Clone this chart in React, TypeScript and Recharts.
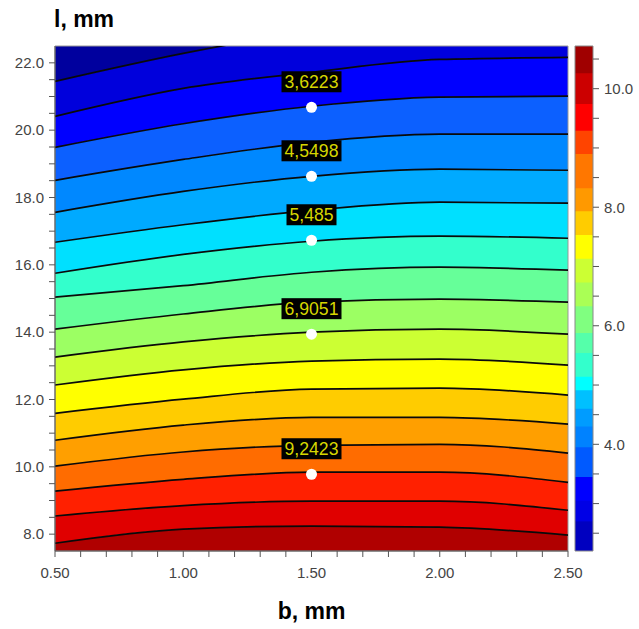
import {
  Area,
  ComposedChart,
  Line,
  ReferenceArea,
  Scatter,
  XAxis,
  YAxis,
} from "recharts";

// b positions where the contour lines were read
const bValues = [0.5, 1.0, 1.5, 2.0, 2.5];

// contour levels (value of the field)
const levels = [2.5, 3.0, 3.5, 4.0, 4.5, 5.0, 5.5, 6.0, 6.5, 7.0, 7.5, 8.0, 8.5, 9.0, 9.5, 10.0, 10.5];

// l (mm) where each level crosses the given b
const lAtB050 = [21.45, 20.41, 19.49, 18.51, 17.56, 16.67, 15.75, 15.04, 14.09, 13.26, 12.43, 11.59, 10.79, 10.02, 9.28, 8.54, 7.73];
const lAtB100 = [22.28, 21.24, 20.19, 19.13, 18.18, 17.19, 16.31, 15.38, 14.54, 13.71, 12.88, 12.01, 11.24, 10.44, 9.63, 8.85, 8.15];
const lAtB150 = [22.95, 21.72, 20.71, 19.64, 18.63, 17.62, 16.7, 15.78, 14.89, 14.0, 13.14, 12.31, 11.47, 10.64, 9.84, 8.98, 8.24];
const lAtB200 = [23.3, 22.1, 20.98, 19.88, 18.84, 17.86, 16.85, 15.93, 14.98, 14.09, 13.2, 12.34, 11.47, 10.67, 9.84, 8.98, 8.21];
const lAtB250 = [23.4, 22.16, 21.01, 19.88, 18.81, 17.83, 16.79, 15.84, 14.89, 13.94, 13.02, 12.13, 11.27, 10.41, 9.54, 8.71, 7.97];

// fill of each band, from below the first level to above the last one
const bandColors = [
  "#00009e", "#0000dc", "#0000ff", "#0c60ff", "#0088ff", "#00aaff",
  "#00e0ff", "#33ffcc", "#66ff99", "#9cff63", "#ccff33", "#ffff00",
  "#ffcc00", "#ff9f00", "#ff6c00", "#ff2000", "#e00000", "#b00000",
];

// marked points
const pointB = [1.5, 1.5, 1.5, 1.5, 1.5];
const pointL = [20.68, 18.63, 16.73, 13.94, 9.78];
const pointLabels = ["3,6223", "4,5498", "5,485", "6,9051", "9,2423"];

// colour bar steps
const cbEdges = [2.2, 2.7, 3.05, 3.45, 3.95, 4.3, 4.6, 4.91, 5.14, 5.54, 5.88, 6.33, 6.73, 7.13, 7.53, 7.93, 8.32, 8.9, 9.29, 9.74, 10.26, 10.72];
const cbColors = [
  "#0000c0", "#0000e6", "#0000ff", "#005aff", "#0082ff", "#009cff",
  "#00c0ff", "#00ffff", "#33ffcc", "#55ffaa", "#80ff80", "#aaff55",
  "#ccff33", "#ffff00", "#ffcc00", "#ff9900", "#ff7700", "#ff4400",
  "#ff0000", "#cc0000", "#a00000",
];

const xTicks = [0.5, 0.6, 0.7, 0.8, 0.9, 1.0, 1.1, 1.2, 1.3, 1.4, 1.5, 1.6, 1.7, 1.8, 1.9, 2.0, 2.1, 2.2, 2.3, 2.4, 2.5];
const yTicks = [8, 8.5, 9, 9.5, 10, 10.5, 11, 11.5, 12, 12.5, 13, 13.5, 14, 14.5, 15, 15.5, 16, 16.5, 17, 17.5, 18, 18.5, 19, 19.5, 20, 20.5, 21, 21.5, 22];
const cbTicks = [2.5, 3, 3.5, 4, 4.5, 5, 5.5, 6, 6.5, 7, 7.5, 8, 8.5, 9, 9.5, 10, 10.5];

const Y_MIN = 7.5;
const Y_MAX = 22.5;

const columns = [lAtB050, lAtB100, lAtB150, lAtB200, lAtB250];
const rows = bValues.map((b, i) => {
  const row: Record<string, number> = { b };
  levels.forEach((_, k) => {
    row["c" + k] = columns[i][k];
  });
  return row;
});

const points = pointB.map((b, i) => ({ b, l: pointL[i], label: pointLabels[i] }));

const bandKey = (k: number) => (r: Record<string, number>) => {
  const lo = k === levels.length ? Y_MIN : r["c" + k];
  const hi = k === 0 ? Y_MAX : r["c" + (k - 1)];
  return [lo, hi];
};

// colour bar: two rows spanning its width; steps drawn top first, each one
// reaching down to the bottom so no seams show between them
const cbRows = [{ x: 0 }, { x: 1 }];
const cbOrder = cbColors.map((_, i) => i).reverse();

const font = "'Liberation Sans', Arial, sans-serif";
const tickStyle = { fill: "#444", fontSize: 15, fontFamily: font };

function PointMark(props: any) {
  const { cx, cy, payload } = props;
  const w = payload.label.length * 10;
  return (
    <g>
      <rect x={cx - w / 2} y={cy - 36} width={w} height={21} fill="#000" />
      <text
        x={cx}
        y={cy - 19}
        textAnchor="middle"
        fill="#d6d600"
        fontSize={18}
        fontFamily={font}
        textLength={w - 6}
        lengthAdjust="spacingAndGlyphs"
      >
        {payload.label}
      </text>
      <circle cx={cx} cy={cy} r={5.5} fill="#fff" />
    </g>
  );
}

export default function App() {
  return (
    <div
      style={{
        position: "absolute",
        left: 0,
        top: 0,
        width: 639,
        height: 629,
        background: "#fff",
        fontFamily: font,
      }}
    >
      <div style={{ position: "absolute", left: 0, top: 0 }}>
        <ComposedChart
          width={639}
          height={629}
          data={rows}
          margin={{ top: 46, right: 71, bottom: 48, left: 10 }}
        >
          <XAxis
            dataKey="b"
            type="number"
            domain={[0.5, 2.5]}
            ticks={xTicks}
            interval={0}
            tickFormatter={(v: number) =>
              Math.abs(v * 2 - Math.round(v * 2)) < 1e-6 ? v.toFixed(2) : ""
            }
            tick={tickStyle}
            tickSize={6}
            tickMargin={10}
            height={30}
            stroke="#555"
          />
          <YAxis
            type="number"
            domain={[Y_MIN, Y_MAX]}
            allowDataOverflow
            ticks={yTicks}
            interval={0}
            tickFormatter={(v: number) => (v % 2 === 0 ? v.toFixed(1) : "")}
            tick={tickStyle}
            tickSize={6}
            tickMargin={5}
            width={45}
            stroke="#555"
          />
          {bandColors.map((c, k) => (
            <Area
              key={"band" + k}
              type="monotone"
              dataKey={bandKey(k)}
              fill={c}
              fillOpacity={1}
              stroke="none"
              isAnimationActive={false}
            />
          ))}
          {levels.map((lv, k) => (
            <Line
              key={"lvl" + lv}
              type="monotone"
              dataKey={"c" + k}
              stroke="#0a0a0a"
              strokeWidth={1.7}
              dot={false}
              isAnimationActive={false}
            />
          ))}
          <ReferenceArea
            x1={0.5}
            x2={2.5}
            y1={Y_MIN}
            y2={Y_MAX}
            fill="none"
            stroke="#999"
            ifOverflow="visible"
          />
          <Scatter
            data={points}
            dataKey="l"
            shape={PointMark}
            isAnimationActive={false}
          />
        </ComposedChart>
      </div>

      <div style={{ position: "absolute", left: 0, top: 0 }}>
        <ComposedChart
          width={639}
          height={629}
          data={cbRows}
          margin={{ top: 46, right: 6, bottom: 78, left: 575 }}
        >
          <XAxis dataKey="x" type="number" domain={[0, 1]} hide />
          <YAxis
            orientation="right"
            type="number"
            domain={[cbEdges[0], cbEdges[cbEdges.length - 1]]}
            allowDataOverflow
            ticks={cbTicks}
            interval={0}
            tickFormatter={(v: number) => (v % 2 === 0 ? v.toFixed(1) : "")}
            tick={tickStyle}
            tickSize={6}
            tickMargin={5}
            width={40}
            axisLine={false}
            stroke="#555"
          />
          {cbOrder.map((i) => (
            <Area
              key={"cb" + i}
              type="linear"
              dataKey={() => [cbEdges[0], cbEdges[i + 1]]}
              fill={cbColors[i]}
              fillOpacity={1}
              stroke="none"
              isAnimationActive={false}
            />
          ))}
          <ReferenceArea
            x1={0}
            x2={1}
            y1={cbEdges[0]}
            y2={cbEdges[cbEdges.length - 1]}
            fill="none"
            stroke="#888"
            ifOverflow="visible"
          />
        </ComposedChart>
      </div>

      <div
        style={{
          position: "absolute",
          left: 54,
          top: 8,
          fontSize: 23,
          fontWeight: "bold",
          lineHeight: 1,
          color: "#000",
        }}
      >
        l, mm
      </div>
      <div
        style={{
          position: "absolute",
          left: 55,
          width: 513,
          top: 600,
          textAlign: "center",
          fontSize: 23,
          fontWeight: "bold",
          lineHeight: 1,
          color: "#000",
        }}
      >
        b, mm
      </div>
    </div>
  );
}
